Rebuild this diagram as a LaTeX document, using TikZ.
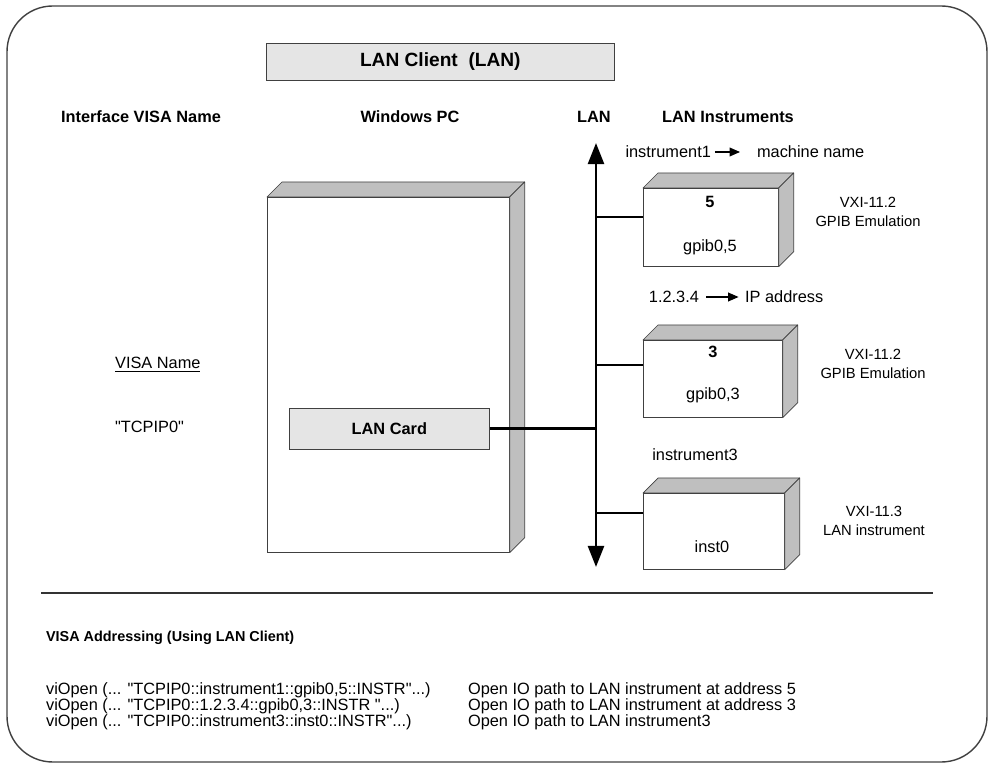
\documentclass[tikz,border=0pt]{standalone}
\usepackage{fontspec}
\setmainfont{Liberation Sans}[Ligatures=TeXOff]
\usetikzlibrary{arrows.meta}
\tikzset{%
  frontbox/.style = {shape=rectangle, draw=black!75, fill=white,%
                     anchor=north west, inner sep=0pt},%
  cardbox/.style  = {frontbox, fill=black!10},%
  face/.style     = {draw=black!75, fill=black!25, line join=round},%
  hdr/.style      = {font=\fontsize{9.3}{11}\selectfont\bfseries},%
  txt/.style      = {font=\fontsize{9.3}{11}\selectfont},%
  note/.style     = {font=\fontsize{8.4}{10.8}\selectfont, align=center},%
  busline/.style  = {line width=1.7pt,%
                     {Triangle[length=12pt,width=9pt]}-{Triangle[length=12pt,width=9pt]}},%
  link/.style     = {line width=1.7pt},%
  pointer/.style  = {line width=0.8pt, -{Triangle[length=6pt,width=5pt]}}%
}
\newcommand\solidfaces[1]{%
  \filldraw[face] (#1.north west) -- ++(15,-15) -- ([shift={(15,-15)}]#1.north east) -- (#1.north east) -- cycle;
  \filldraw[face] (#1.north east) -- ++(15,-15) -- ([shift={(15,-15)}]#1.south east) -- (#1.south east) -- cycle;}
\newcommand\dq{\symbol{34}}

\begin{document}
\begin{tikzpicture}[x=0.02cm,y=-0.02cm,
	every node/.style = {inner sep=1pt}]
	\useasboundingbox (0,0) rectangle (988,763);
	\draw[black!75, line width=0.8pt, rounded corners=26pt] (7,6) rectangle (987,762);
	\node[cardbox, minimum width=6.96cm, minimum height=0.74cm,
		font=\fontsize{10.9}{13}\selectfont\bfseries] (title) at (266,43) {LAN Client~ (LAN)};
	\node[hdr] (ifname) at (141,117) {Interface VISA Name};
	\node[hdr] (pcname) at (410,117) {Windows PC};
	\node[hdr] (lanname) at (594,117) {LAN};
	\node[hdr] (instname) at (728,117) {LAN Instruments};
	% the PC
	\node[frontbox, minimum width=4.84cm, minimum height=7.1cm] (pc) at (267,197) {};
	\solidfaces{pc}
	\node[cardbox, hdr, minimum width=4cm, minimum height=0.82cm] (lancard) at (289,408) {LAN Card};
	\node[txt, anchor=west] (visaname) at (113,365) {\underline{VISA Name}};
	\node[txt, anchor=west] (tcpip) at (113,427) {\dq TCPIP0\dq};
	% the instruments
	\node[frontbox, minimum width=2.7cm, minimum height=1.56cm] (inst1) at (643,188) {};
	\solidfaces{inst1}
	\node[hdr] (addr1) at (710,202) {5};
	\node[txt] (gpib1) at (710,247) {gpib0,5};
	\node[frontbox, minimum width=2.78cm, minimum height=1.54cm] (inst2) at (643,340) {};
	\solidfaces{inst2}
	\node[hdr] (addr2) at (713,352) {3};
	\node[txt] (gpib2) at (713,395) {gpib0,3};
	\node[frontbox, minimum width=2.82cm, minimum height=1.52cm] (inst3) at (643,493) {};
	\solidfaces{inst3}
	\node[txt] (lan3) at (712,547) {inst0};
	\node[note] (vxi1) at (868,212) {VXI-11.2\\GPIB Emulation};
	\node[note] (vxi2) at (873,364) {VXI-11.2\\GPIB Emulation};
	\node[note] (vxi3) at (874,521) {VXI-11.3\\LAN instrument};
	\node[txt, anchor=east] (host1) at (713,152) {instrument1};
	\node[txt, anchor=west] (machine) at (755,152) {machine name};
	\draw[pointer, shorten <=1pt, shorten >=8.5pt] (host1.east) -- (machine.west);
	\node[txt, anchor=east] (host2) at (701,297) {1.2.3.4};
	\node[txt, anchor=west] (ipaddr) at (743,297) {IP address};
	\draw[pointer, shorten <=3pt, shorten >=2.5pt] (host2.east) -- (ipaddr.west);
	\node[txt] (host3) at (695,455) {instrument3};
	% the LAN
	\coordinate (bustop) at (596,143);
	\coordinate (busbot) at (596,567);
	\draw[busline] (busbot) -- (bustop);
	\coordinate (tap1) at (596,217);
	\coordinate (tap2) at (596,365);
	\coordinate (tap3) at (596,513);
	\draw[link] (tap1) -- (tap1 -| inst1.west);
	\draw[link] (tap2) -- (tap2 -| inst2.west);
	\draw[link] (tap3) -- (tap3 -| inst3.west);
	\draw[link] (lancard.east) -- (lancard.east -| bustop);
	% addressing
	\coordinate (sepl) at (41,593);
	\coordinate (sepr) at (933,593);
	\draw[black!80, line width=0.8pt] (sepl) -- (sepr);
	\node[font=\fontsize{8.2}{10}\selectfont\bfseries, anchor=west] (addrhdr) at (44,638) {VISA Addressing (Using LAN Client)};
	\node[txt, anchor=west] (call1) at (44,690) {viOpen (... \dq TCPIP0::instrument1::gpib0,5::INSTR\dq ...)};
	\node[txt, anchor=west] (call2) at (44,706) {viOpen (... \dq TCPIP0::1.2.3.4::gpib0,3::INSTR \dq ...)};
	\node[txt, anchor=west] (call3) at (44,722) {viOpen (... \dq TCPIP0::instrument3::inst0::INSTR\dq ...)};
	\node[txt, anchor=west] (what1) at (466,690) {Open IO path to LAN instrument at address 5};
	\node[txt, anchor=west] (what2) at (466,706) {Open IO path to LAN instrument at address 3};
	\node[txt, anchor=west] (what3) at (466,722) {Open IO path to LAN instrument3};
\end{tikzpicture}
\end{document}
